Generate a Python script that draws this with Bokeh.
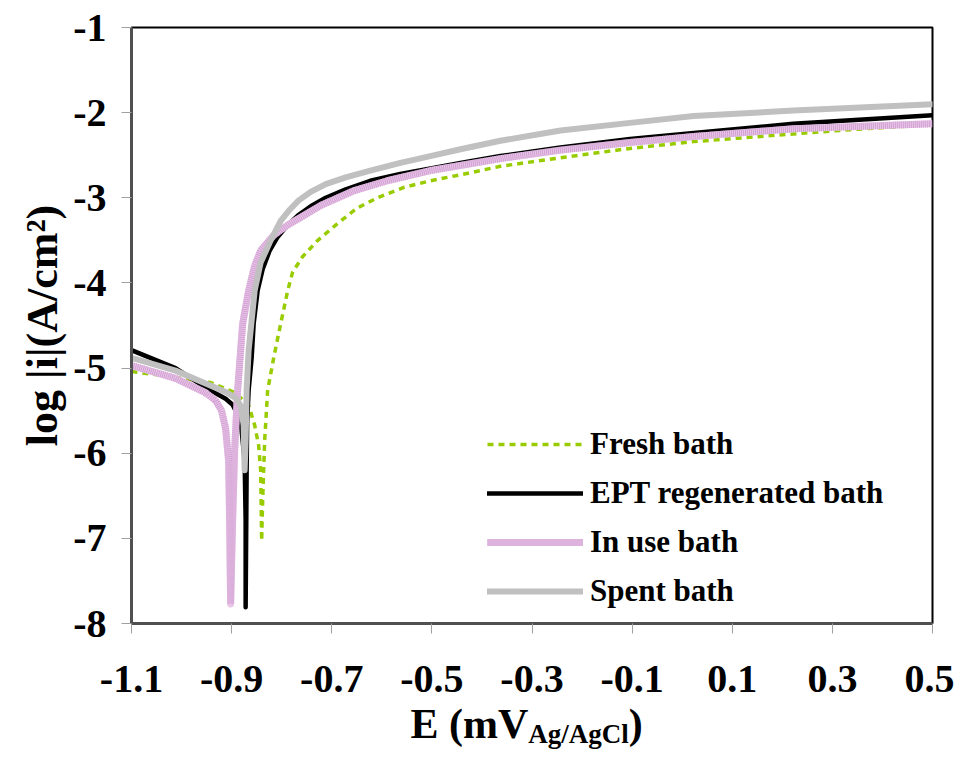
from bokeh.plotting import figure
from bokeh.layouts import column, row
from bokeh.models import FixedTicker, Label, Legend, LegendItem, Range1d
from bokeh.embed import file_html
from bokeh.resources import INLINE

# ---------------- data ----------------
x_ticks = [-1.1, -0.9, -0.7, -0.5, -0.3, -0.1, 0.1, 0.3, 0.5]
x_tick_labels = ["-1.1", "-0.9", "-0.7", "-0.5", "-0.3", "-0.1", "0.1", "0.3", "0.5"]
y_ticks = [-8, -7, -6, -5, -4, -3, -2, -1]
y_tick_labels = ["-8", "-7", "-6", "-5", "-4", "-3", "-2", "-1"]

series_names = ["Fresh bath", "EPT regenerated bath", "In use bath", "Spent bath"]
x_title_parts = ["E (mV", "Ag/AgCl", ")"]
y_title = "log |i|(A/cm\u00b2)"

fresh_E = [-1.100, -1.022, -0.942, -0.892, -0.866, -0.854, -0.846, -0.842, -0.840,
           -0.838, -0.834, -0.828, -0.816, -0.802, -0.788, -0.778, -0.758, -0.728,
           -0.688, -0.649, -0.609, -0.557, -0.503, -0.443, -0.363, -0.243, -0.104,
           0.023, 0.222, 0.336, 0.500]
fresh_logi = [-5.04, -5.10, -5.17, -5.29, -5.44, -5.67, -5.91, -6.20, -7.03,
              -6.55, -5.85, -5.26, -4.88, -4.48, -4.09, -3.87, -3.69, -3.50,
              -3.30, -3.12, -3.00, -2.88, -2.80, -2.73, -2.63, -2.53, -2.42,
              -2.34, -2.25, -2.20, -2.14]

ept_E = [-1.100, -1.012, -0.952, -0.912, -0.898, -0.882, -0.874, -0.872, -0.872,
         -0.870, -0.869, -0.866, -0.860, -0.856, -0.848, -0.838, -0.824, -0.808,
         -0.788, -0.768, -0.742, -0.712, -0.672, -0.623, -0.563, -0.489, -0.443,
         -0.363, -0.243, -0.104, 0.023, 0.222, 0.500]
ept_logi = [-4.79, -5.00, -5.23, -5.36, -5.43, -5.62, -6.09, -6.79, -7.81,
            -6.20, -5.62, -5.26, -4.88, -4.48, -4.09, -3.84, -3.62, -3.46,
            -3.32, -3.21, -3.10, -3.00, -2.90, -2.80, -2.72, -2.64, -2.59,
            -2.51, -2.41, -2.31, -2.24, -2.13, -2.03]

inuse_E = [-1.100, -1.012, -0.952, -0.932, -0.920, -0.912, -0.906, -0.904, -0.902,
           -0.898, -0.894, -0.888, -0.878, -0.866, -0.854, -0.842, -0.816, -0.788,
           -0.762, -0.722, -0.657, -0.589, -0.503, -0.443, -0.363, -0.243, -0.104,
           0.023, 0.222, 0.500]
inuse_logi = [-4.97, -5.12, -5.29, -5.38, -5.50, -5.71, -6.09, -6.79, -7.77,
              -6.79, -5.97, -5.26, -4.48, -4.09, -3.80, -3.62, -3.44, -3.32,
              -3.23, -3.09, -2.92, -2.80, -2.68, -2.62, -2.54, -2.44, -2.35,
              -2.28, -2.19, -2.13]

spent_E = [-1.100, -1.012, -0.952, -0.912, -0.892, -0.882, -0.876, -0.874,
           -0.872, -0.870, -0.866, -0.860, -0.854, -0.842, -0.822, -0.802, -0.784,
           -0.766, -0.742, -0.712, -0.672, -0.623, -0.563, -0.503, -0.443, -0.363,
           -0.243, -0.104, 0.023, 0.222, 0.500]
spent_logi = [-4.88, -5.03, -5.18, -5.28, -5.35, -5.44, -5.67, -6.20,
              -5.85, -5.26, -4.79, -4.44, -4.09, -3.76, -3.50, -3.27, -3.14,
              -3.03, -2.93, -2.84, -2.76, -2.68, -2.59, -2.51, -2.43, -2.33,
              -2.21, -2.12, -2.04, -1.975, -1.90]

FONT = "Liberation Serif"

# ---------------- main chart ----------------
p = figure(width=954, height=700, output_backend="svg", toolbar_location=None,
           x_range=Range1d(-1.1, 0.5), y_range=Range1d(-8, -1), title=None,
           min_border_left=131, min_border_right=22, min_border_top=27,
           min_border_bottom=77)
p.background_fill_color = "white"
p.border_fill_color = "white"
p.outline_line_color = "black"
p.outline_line_width = 2
p.xgrid.visible = False
p.ygrid.visible = False

for ax, ticks, labels in ((p.xaxis[0], x_ticks, x_tick_labels), (p.yaxis[0], y_ticks, y_tick_labels)):
    ax.ticker = FixedTicker(ticks=ticks)
    ax.major_label_overrides = {t: l for t, l in zip(ticks, labels)}
    ax.major_label_text_font = FONT
    ax.major_label_text_font_style = "bold"
    ax.major_label_text_font_size = "40px"
    ax.major_label_text_color = "black"
    ax.axis_line_color = "#505050"
    ax.axis_line_width = 3
    ax.major_tick_line_color = "#a0a0a0"
    ax.major_tick_in = 0
    ax.major_tick_out = 10
    ax.minor_tick_line_color = None
p.xaxis.major_label_standoff = 32
p.yaxis.major_label_standoff = 15

p.yaxis.axis_label = y_title
p.yaxis.axis_label_text_font = FONT
p.yaxis.axis_label_text_font_style = "bold"
p.yaxis.axis_label_text_font_size = "44px"
p.yaxis.axis_label_text_color = "black"
p.yaxis.axis_label_standoff = 3

# curves (drawing order: fresh, EPT, in use, spent)
r_fresh = p.line(fresh_E, fresh_logi, line_color="#99cc00", line_width=3.5,
                 line_dash="6 5")
r_ept = p.line(ept_E, ept_logi, line_color="black", line_width=4.5,
               line_cap="round", line_join="round")
r_inuse = p.line(inuse_E, inuse_logi, line_color="#e8c6e8", line_width=7,
                 line_join="round")
r_inuse2 = p.line(inuse_E, inuse_logi, line_color="#d2a0d2", line_width=7,
                  line_dash="1 1", line_join="round")
r_spent = p.line(spent_E, spent_logi, line_color="#c0c0c0", line_width=6,
                 line_cap="round", line_join="round")

legend = Legend(items=[
    LegendItem(label=series_names[0], renderers=[r_fresh]),
    LegendItem(label=series_names[1], renderers=[r_ept]),
    LegendItem(label=series_names[2], renderers=[r_inuse, r_inuse2]),
    LegendItem(label=series_names[3], renderers=[r_spent]),
], location=(356, 12))
legend.border_line_color = None
legend.background_fill_alpha = 0
legend.padding = 0
legend.margin = 0
legend.spacing = 9
legend.label_height = 40
legend.glyph_height = 40
legend.glyph_width = 96
legend.label_standoff = 7
legend.label_text_font = FONT
legend.label_text_font_style = "bold"
legend.label_text_font_size = "31px"
legend.label_text_color = "black"
p.add_layout(legend)

# ---------------- x title strip (pixel data ranges) ----------------
XW, XH = 954, 56
xs = figure(width=XW, height=XH, output_backend="svg", toolbar_location=None,
            x_range=Range1d(0, XW), y_range=Range1d(0, XH), title=None,
            x_axis_location=None, y_axis_location=None,
            min_border=0, min_border_left=0, min_border_right=0,
            min_border_top=0, min_border_bottom=0)
xs.outline_line_color = None
xs.background_fill_color = "white"
xs.border_fill_color = "white"
xs.xgrid.visible = False
xs.ygrid.visible = False


def lab(fig, text, x, y, size):
    fig.add_layout(Label(x=x, y=y, text=text, text_font=FONT,
                         text_font_style="bold", text_font_size=size,
                         text_color="black", text_align="left",
                         text_baseline="alphabetic"))


# page y = 700 + (XH - data y)
XF, SF = 42, 27
x0 = 410
base = 756 - 723
lab(xs, x_title_parts[0], x0, base, f"{XF}px")
lab(xs, x_title_parts[1], x0 + 2.805 * XF, base - 10, f"{SF}px")
lab(xs, x_title_parts[2], x0 + 2.805 * XF + 3.722 * SF, base, f"{XF}px")

layout = column(row(p, spacing=0), row(xs, spacing=0), spacing=0)

open("out.html", "w").write(file_html(layout, INLINE))
